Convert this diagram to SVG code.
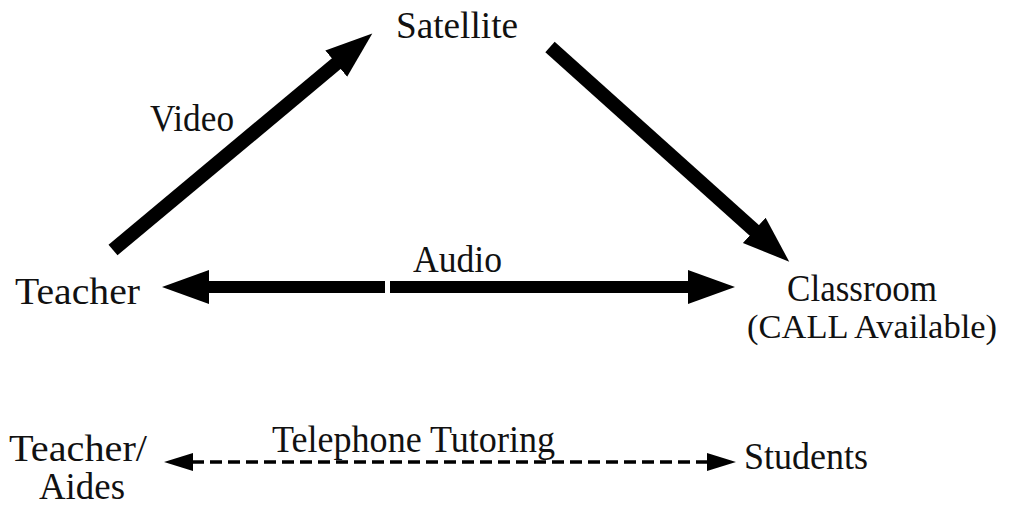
<svg xmlns="http://www.w3.org/2000/svg" width="1011" height="506" viewBox="0 0 1011 506">
<style>
  text { font-family: "Liberation Serif", "Times New Roman", serif; font-size: 37px; fill: #111; }
  .thick { stroke: #000; stroke-width: 14; fill: none; stroke-linecap: butt; }
  .audio { stroke: #000; stroke-width: 12; fill: none; }
  .dash { stroke: #000; stroke-width: 3.5; fill: none; stroke-dasharray: 12 6; }
</style>
<defs>
  <marker id="bigHead" markerUnits="userSpaceOnUse" viewBox="0 0 48 36" markerWidth="48" markerHeight="36" refX="1" refY="18" orient="auto-start-reverse">
    <path d="M0,1 L47,18 L0,35 z" fill="#000"/>
  </marker>
  <marker id="smallHead" markerUnits="userSpaceOnUse" viewBox="0 0 30 20" markerWidth="30" markerHeight="20" refX="1" refY="10" orient="auto-start-reverse">
    <path d="M0,1 L29,10 L0,19 z" fill="#000"/>
  </marker>
</defs>
<rect width="1011" height="506" fill="#fff"/>
<g id="connectors">
  <line id="video-arrow" class="thick" x1="113" y1="250" x2="337" y2="63" marker-end="url(#bigHead)"/>
  <line id="sat-class-arrow" class="thick" x1="550" y1="47" x2="755" y2="231" marker-end="url(#bigHead)"/>
  <line id="audio-left" class="audio" x1="208" y1="287" x2="385" y2="287" marker-start="url(#bigHead)"/>
  <line id="audio-right" class="audio" x1="390" y1="287" x2="689" y2="287" marker-end="url(#bigHead)"/>
  <line id="phone-arrow" class="dash" x1="192" y1="462" x2="708" y2="462" marker-start="url(#smallHead)" marker-end="url(#smallHead)"/>
  <text id="video-label" x="150" y="131" textLength="84" lengthAdjust="spacingAndGlyphs">Video</text>
  <text id="audio-label" x="413" y="272" textLength="89" lengthAdjust="spacingAndGlyphs">Audio</text>
  <text id="phone-label" x="272" y="452" textLength="283" lengthAdjust="spacingAndGlyphs">Telephone Tutoring</text>
</g>
<g id="satellite"><text x="396" y="38" textLength="122" lengthAdjust="spacingAndGlyphs">Satellite</text></g>
<g id="teacher"><text x="15" y="304" textLength="125" lengthAdjust="spacingAndGlyphs">Teacher</text></g>
<g id="classroom">
  <text x="787" y="301" textLength="150" lengthAdjust="spacingAndGlyphs">Classroom</text>
  <text x="747" y="338" style="font-size:34.5px">(CALL Available)</text>
</g>
<g id="teacher-aides">
  <text x="9" y="461" textLength="138" lengthAdjust="spacingAndGlyphs">Teacher/</text>
  <text x="39" y="499" textLength="86" lengthAdjust="spacingAndGlyphs">Aides</text>
</g>
<g id="students"><text x="744" y="469" textLength="124" lengthAdjust="spacingAndGlyphs">Students</text></g>
</svg>
